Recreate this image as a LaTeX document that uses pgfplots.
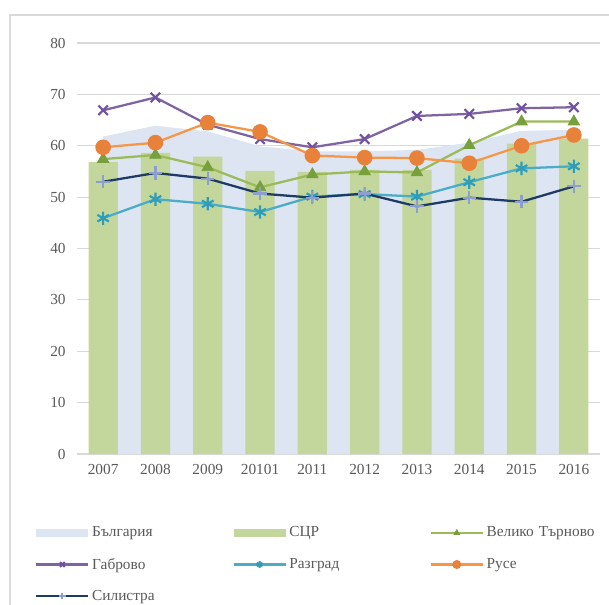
\documentclass[border=0pt]{standalone}
\usepackage{pgfplots}
\pgfplotsset{compat=1.18}
\usepackage{fontspec}
\setmainfont{Liberation Serif}
\definecolor{areablue}{HTML}{DCE5F1}
\definecolor{bargreen}{HTML}{C3D69B}
\definecolor{vtline}{HTML}{9BBB59}
\definecolor{vtmark}{HTML}{77A03C}
\definecolor{gabline}{HTML}{8064A2}
\definecolor{gabmark}{HTML}{7151A0}
\definecolor{razline}{HTML}{4BACC6}
\definecolor{razmark}{HTML}{2E9DB8}
\definecolor{ruseline}{HTML}{F79646}
\definecolor{rusemark}{HTML}{E8823A}
\definecolor{silline}{HTML}{1F3A64}
\definecolor{silmark}{HTML}{8C9FCF}
\definecolor{txtgray}{HTML}{595959}
\definecolor{gridgray}{HTML}{D9D9D9}
\begin{document}
\begin{tikzpicture}
\useasboundingbox (0pt,0pt) rectangle (456.75pt,-453.75pt);
\draw[gridgray, line width=1pt] (7.5pt,-460pt) -- (7.5pt,-11.25pt) -- (470pt,-11.25pt);
\begin{axis}[
  at={(57.75pt,-340.5pt)}, anchor=south west,
  scale only axis, width=392.25pt, height=308.25pt,
  xmin=-0.5, xmax=9.5, ymin=0, ymax=80,
  xtick={0,...,9},
  xticklabels={2007,2008,2009,20101,2011,2012,2013,2014,2015,2016},
  ytick={0,10,...,80},
  ymajorgrids, grid style={gridgray, line width=0.8pt},
  axis x line*=bottom, axis y line*=left,
  x axis line style={draw=gridgray, line width=0.8pt, -},
  y axis line style={draw=none},
  ytick style={draw=none}, xtick style={draw=none},
  tick label style={font=\fontsize{11.5}{13}\selectfont, text=txtgray},
  /pgf/number format/assume math mode=true,
  yticklabel style={xshift=-5pt},
  xticklabel style={yshift=-4pt},
  legend columns=3,
  legend cell align=left,
  legend style={at={(-0.0803,-0.170)}, anchor=north west, draw=none, fill=none,
    inner sep=0pt, row sep=10.3pt,
    font=\fontsize{11.5}{13}\selectfont, text=txtgray,
    nodes={text width=103.2pt, align=left, inner sep=2pt}},
]
\addplot[fill=areablue, draw=none,
  legend image code/.code={\fill[areablue] (0pt,-3pt) rectangle (39pt,3pt);}]
  coordinates {(0,61.8) (1,63.9) (2,62.8) (3,59.9) (4,58.9) (5,58.9) (6,59.2) (7,60.6) (8,62.9) (9,63.1)} \closedcycle;
\addlegendentry{България}
\addplot[ybar, bar width=0.56, fill=bargreen, draw=none,
  legend image code/.code={\fill[bargreen] (0pt,-3pt) rectangle (39pt,3pt);}]
  coordinates {(0,56.8) (1,58.6) (2,57.9) (3,55.1) (4,54.9) (5,55.3) (6,55.3) (7,57.5) (8,60.4) (9,61.4)};
\addlegendentry{СЦР}
\pgfplotsset{every axis plot/.append style={
  legend image code/.code={\draw[##1, mark size=2.5pt, mark repeat=2, mark phase=2] plot coordinates {(0pt,0pt) (19.5pt,0pt) (39pt,0pt)};}}}
\addplot[vtline, line width=1.7pt, mark=triangle*, mark size=5pt, mark options={fill=vtmark, draw=vtmark, line width=0.5pt}]
  coordinates {(0,57.4) (1,58.2) (2,55.8) (3,51.9) (4,54.4) (5,55.0) (6,54.8) (7,60.1) (8,64.7) (9,64.7)};
\addlegendentry{Велико Търново}
\addplot[gabline, line width=1.7pt, mark=x, mark size=5pt, mark options={draw=gabmark, line width=1.6pt}]
  coordinates {(0,66.9) (1,69.4) (2,64.1) (3,61.3) (4,59.7) (5,61.3) (6,65.8) (7,66.2) (8,67.3) (9,67.5)};
\addlegendentry{Габрово}
\addplot[razline, line width=1.7pt, mark=asterisk, mark size=5pt, mark options={draw=razmark, line width=1.6pt}]
  coordinates {(0,45.9) (1,49.6) (2,48.7) (3,47.1) (4,50.1) (5,50.6) (6,50.1) (7,52.9) (8,55.6) (9,56.0)};
\addlegendentry{Разград}
\addplot[ruseline, line width=1.7pt, mark=*, mark size=5pt, mark options={fill=rusemark, draw=rusemark}]
  coordinates {(0,59.7) (1,60.6) (2,64.5) (3,62.7) (4,58.1) (5,57.7) (6,57.6) (7,56.6) (8,60.0) (9,62.1)};
\addlegendentry{Русе}
\addplot[silline, line width=1.7pt, mark=+, mark size=5pt, mark options={draw=silmark, line width=1.6pt}]
  coordinates {(0,53.0) (1,54.7) (2,53.6) (3,50.7) (4,49.9) (5,50.7) (6,48.2) (7,49.9) (8,49.1) (9,52.1)};
\addlegendentry{Силистра}
\end{axis}
\end{tikzpicture}
\end{document}
